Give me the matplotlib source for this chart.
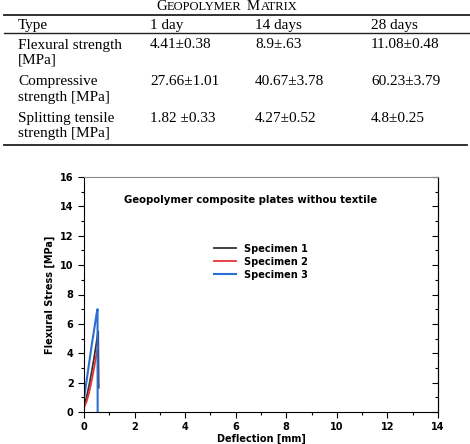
import matplotlib.pyplot as plt
from matplotlib.ticker import MultipleLocator

# table data
col_heads = ['Type', '1 day', '14 days', '28 days']
row_names = [['Flexural strength', '[MPa]'],
             ['Compressive', 'strength [MPa]'],
             ['Splitting tensile', 'strength [MPa]']]
day1 = ['4.41\u00b10.38', '27.66\u00b11.01', '1.82 \u00b10.33']
day14 = ['8.9\u00b1.63', '40.67\u00b13.78', '4.27\u00b10.52']
day28 = ['11.08\u00b10.48', '60.23\u00b13.79', '4.8\u00b10.25']

# curve data (deflection mm, stress MPa)
s1_x = [0.0, 0.1, 0.2, 0.3, 0.4, 0.5, 0.56, 0.58]
s1_y = [0.45, 1.0, 1.8, 2.7, 3.7, 4.8, 5.5, 1.65]
s2_x = [0.0, 0.1, 0.2, 0.3, 0.4, 0.5, 0.56]
s2_y = [0.3, 0.7, 1.3, 2.1, 3.0, 4.0, 4.5]
s3_x = [0.0, 0.1, 0.2, 0.3, 0.4, 0.5, 0.535, 0.54]
s3_y = [0.95, 2.1, 3.3, 4.5, 5.6, 6.7, 7.0, 0.0]

fig = plt.figure(figsize=(4.7, 4.44), dpi=100)

# table drawn in pixel coordinates
tab = fig.add_axes([0, 0, 1, 1])
tab.set_xlim(0, 470)
tab.set_ylim(444, 0)
tab.axis('off')
serif = 'Liberation Serif'
fs = 11
tab.text(156, 9.5, 'G', fontsize=10.5, family=serif, va='baseline')
tab.text(167, 9.5, 'EOPOLYMER', fontsize=9, family=serif, va='baseline')
tab.text(247, 9.5, 'M', fontsize=10.5, family=serif, va='baseline')
tab.text(261, 9.5, 'ATRIX', fontsize=9, family=serif, va='baseline')
tab.plot([4, 470], [15, 15], color='#222222', lw=1.3)
tab.plot([4, 470], [33, 33], color='#222222', lw=1.0)
tab.plot([4, 467], [145, 145], color='#222222', lw=1.3)
col_x = [18, 150, 255, 371]
for x, h in zip(col_x, col_heads):
    tab.text(x, 28.5, h, fontsize=fs, family=serif, va='baseline')
row_y = [48.5, 85, 121.5]
for i, y in enumerate(row_y):
    tab.text(col_x[0], y, row_names[i][0], fontsize=fs, family=serif, va='baseline')
    tab.text(col_x[0], y + 15.5, row_names[i][1], fontsize=fs, family=serif, va='baseline')
    tab.text(col_x[1], y, day1[i], fontsize=fs, family=serif, va='baseline')
    tab.text(col_x[2], y, day14[i], fontsize=fs, family=serif, va='baseline')
    tab.text(col_x[3], y, day28[i], fontsize=fs, family=serif, va='baseline')

# chart
ax = fig.add_axes([84 / 470, 32 / 444, 354 / 470, 235 / 444])
ax.plot(s1_x, s1_y, color='#333333', lw=1.3, label='Specimen 1')
ax.plot(s2_x, s2_y, color='#e8343a', lw=1.3, label='Specimen 2')
ax.plot(s3_x, s3_y, color='#2a6fd1', lw=1.5, label='Specimen 3')
ax.set_xlim(0, 14)
ax.set_ylim(0, 16)
ax.xaxis.set_major_locator(MultipleLocator(2))
ax.xaxis.set_minor_locator(MultipleLocator(1))
ax.yaxis.set_major_locator(MultipleLocator(2))
ax.yaxis.set_minor_locator(MultipleLocator(1))
ax.tick_params(which='both', direction='out', labelsize=7, width=0.8)
ax.tick_params(which='major', length=4)
ax.tick_params(which='minor', length=2)
for lab in ax.get_xticklabels() + ax.get_yticklabels():
    lab.set_fontweight('bold')
ax.spines['top'].set_color('#888888')

# inward ticks on right side
sec = ax.secondary_yaxis('right')
sec.yaxis.set_major_locator(MultipleLocator(2))
sec.yaxis.set_minor_locator(MultipleLocator(1))
sec.tick_params(which='both', direction='in', labelright=False, width=0.8)
sec.tick_params(which='major', length=4)
sec.tick_params(which='minor', length=2)

ax.set_xlabel('Deflection [mm]', fontsize=7, fontweight='bold', labelpad=1)
ax.set_ylabel('Flexural Stress [MPa]', fontsize=7, fontweight='bold', labelpad=4)
ax.text(6.6, 14.45, 'Geopolymer composite plates withou textile', fontsize=7.3,
        fontweight='bold', ha='center', va='center')
ax.legend(loc='center', bbox_to_anchor=(0.5, 0.64), frameon=False,
          prop={'weight': 'bold', 'size': 7}, handlelength=2.2, labelspacing=0.3)

fig.savefig('out.png', dpi=100)
